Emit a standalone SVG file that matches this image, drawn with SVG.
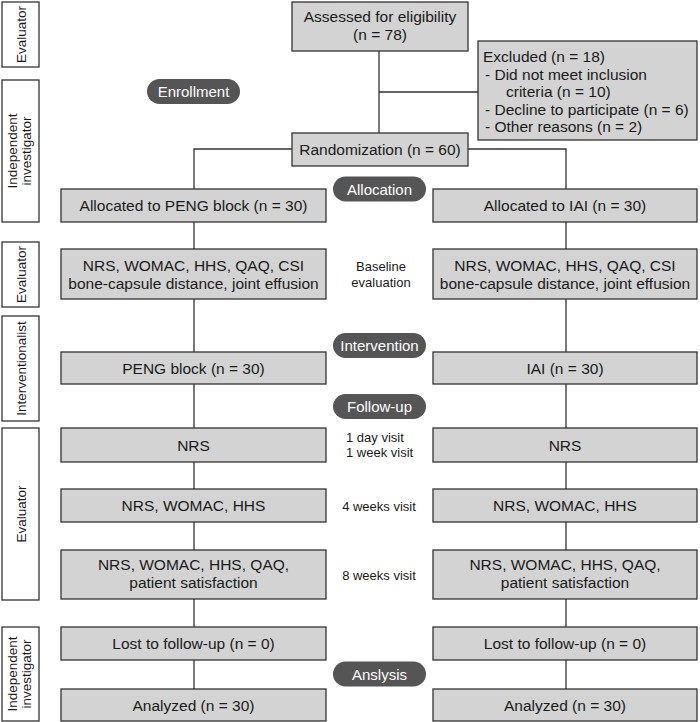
<svg xmlns="http://www.w3.org/2000/svg" width="700" height="722" viewBox="0 0 700 722">
<style>
text{font-family:"Liberation Sans",Arial,sans-serif;fill:#1a1a1a}
.box{fill:#d3d3d3;stroke:#333;stroke-width:1.3}
.side{fill:#fff;stroke:#333;stroke-width:1.3}
.pill{fill:#555}
.t{font-size:15.5px;text-anchor:middle}
.tl{font-size:15.5px}
.s{font-size:13.5px;text-anchor:middle}
.m{font-size:13px;text-anchor:middle}
.ml{font-size:13px}
.p{font-size:15px;text-anchor:middle;fill:#fff}
.conn{fill:none;stroke:#333;stroke-width:1.3}
</style>
<rect width="700" height="722" fill="#fff"/>
<g id="connectors" class="conn">
<path d="M379,51V133M379,92H478"/>
<path d="M292,149H194V189M194,222V249M194,299V352M194,384V428M194,462V489M194,522V550M194,599V627M194,660V689"/>
<path d="M468,149H566V189M566,222V249M566,299V352M566,384V428M566,462V489M566,522V550M566,599V627M566,660V689"/>
</g>
<g id="role-evaluator-1"><rect class="side" x="2" y="2" width="37" height="65"/><text class="s" transform="translate(25.5,34.5) rotate(-90)">Evaluator</text></g>
<g id="role-independent-1"><rect class="side" x="2" y="80" width="37" height="142"/><text class="s" transform="translate(17,151) rotate(-90)">Independent</text><text class="s" transform="translate(31,151) rotate(-90)">investigator</text></g>
<g id="role-evaluator-2"><rect class="side" x="2" y="242" width="37" height="65"/><text class="s" transform="translate(25.5,274.5) rotate(-90)">Evaluator</text></g>
<g id="role-interventionalist"><rect class="side" x="2" y="316" width="37" height="105"/><text class="s" transform="translate(25.5,368.5) rotate(-90)">Interventionalist</text></g>
<g id="role-evaluator-3"><rect class="side" x="2" y="428" width="37" height="172"/><text class="s" transform="translate(25.5,514) rotate(-90)">Evaluator</text></g>
<g id="role-independent-2"><rect class="side" x="2" y="627" width="37" height="94"/><text class="s" transform="translate(17,674) rotate(-90)">Independent</text><text class="s" transform="translate(31,674) rotate(-90)">investigator</text></g>

<g id="assessed"><rect class="box" x="292" y="2" width="176" height="49"/><text class="t" x="380" y="22">Assessed for eligibility</text><text class="t" x="380" y="40">(n = 78)</text></g>
<g id="excluded"><rect class="box" x="478" y="41" width="219" height="99"/>
<text class="tl" x="483" y="62">Excluded (n = 18)</text>
<text class="tl" x="485" y="79.5">- Did not meet inclusion</text>
<text class="tl" x="506" y="97">criteria (n = 10)</text>
<text class="tl" x="485" y="114.5">- Decline to participate (n = 6)</text>
<text class="tl" x="485" y="132">- Other reasons (n = 2)</text></g>
<g id="randomization"><rect class="box" x="292" y="133" width="176" height="33"/><text class="t" x="380" y="155">Randomization (n = 60)</text></g>

<g id="pill-enrollment"><rect class="pill" x="147" y="79" width="93" height="25" rx="12.5"/><text class="p" x="193.5" y="97">Enrollment</text></g>
<g id="pill-allocation"><rect class="pill" x="333" y="176.5" width="93" height="25" rx="12.5"/><text class="p" x="379.5" y="194.5">Allocation</text></g>
<g id="pill-intervention"><rect class="pill" x="333" y="333" width="93" height="25" rx="12.5"/><text class="p" x="379.5" y="351">Intervention</text></g>
<g id="pill-followup"><rect class="pill" x="333" y="394" width="93" height="25" rx="12.5"/><text class="p" x="379.5" y="412">Follow-up</text></g>
<g id="pill-analysis"><rect class="pill" x="333" y="661.5" width="93" height="25" rx="12.5"/><text class="p" x="379.5" y="679.5">Anslysis</text></g>

<g id="alloc-peng"><rect class="box" x="61" y="189" width="265" height="33"/><text class="t" x="193.5" y="211">Allocated to PENG block (n = 30)</text></g>
<g id="alloc-iai"><rect class="box" x="433" y="189" width="264" height="33"/><text class="t" x="565" y="211">Allocated to IAI (n = 30)</text></g>

<g id="baseline-left"><rect class="box" x="61" y="249" width="265" height="50"/><text class="t" x="193.5" y="271">NRS, WOMAC, HHS, QAQ, CSI</text><text class="t" x="193.5" y="289">bone-capsule distance, joint effusion</text></g>
<g id="baseline-right"><rect class="box" x="433" y="249" width="264" height="50"/><text class="t" x="565" y="271">NRS, WOMAC, HHS, QAQ, CSI</text><text class="t" x="565" y="289">bone-capsule distance, joint effusion</text></g>
<g id="label-baseline"><text class="m" x="381" y="271">Baseline</text><text class="m" x="381" y="287">evaluation</text></g>

<g id="peng"><rect class="box" x="61" y="352" width="265" height="32"/><text class="t" x="193.5" y="373.5">PENG block (n = 30)</text></g>
<g id="iai"><rect class="box" x="433" y="352" width="264" height="32"/><text class="t" x="565" y="373.5">IAI (n = 30)</text></g>

<g id="fu1-left"><rect class="box" x="61" y="428" width="265" height="34"/><text class="t" x="193.5" y="450.5">NRS</text></g>
<g id="fu1-right"><rect class="box" x="433" y="428" width="264" height="34"/><text class="t" x="565" y="450.5">NRS</text></g>
<g id="label-fu1"><text class="ml" x="346" y="442">1 day visit</text><text class="ml" x="346" y="457">1 week visit</text></g>

<g id="fu2-left"><rect class="box" x="61" y="489" width="265" height="33"/><text class="t" x="193.5" y="511">NRS, WOMAC, HHS</text></g>
<g id="fu2-right"><rect class="box" x="433" y="489" width="264" height="33"/><text class="t" x="565" y="511">NRS, WOMAC, HHS</text></g>
<g id="label-fu2"><text class="m" x="379" y="510.5">4 weeks visit</text></g>

<g id="fu3-left"><rect class="box" x="61" y="550" width="265" height="49"/><text class="t" x="193.5" y="570">NRS, WOMAC, HHS, QAQ,</text><text class="t" x="193.5" y="588">patient satisfaction</text></g>
<g id="fu3-right"><rect class="box" x="433" y="550" width="264" height="49"/><text class="t" x="565" y="570">NRS, WOMAC, HHS, QAQ,</text><text class="t" x="565" y="588">patient satisfaction</text></g>
<g id="label-fu3"><text class="m" x="379" y="580">8 weeks visit</text></g>

<g id="lost-left"><rect class="box" x="61" y="627" width="265" height="33"/><text class="t" x="193.5" y="649">Lost to follow-up (n = 0)</text></g>
<g id="lost-right"><rect class="box" x="433" y="627" width="264" height="33"/><text class="t" x="565" y="649">Lost to follow-up (n = 0)</text></g>

<g id="analyzed-left"><rect class="box" x="61" y="689" width="265" height="32"/><text class="t" x="193.5" y="710.5">Analyzed (n = 30)</text></g>
<g id="analyzed-right"><rect class="box" x="433" y="689" width="264" height="32"/><text class="t" x="565" y="710.5">Analyzed (n = 30)</text></g>
</svg>
